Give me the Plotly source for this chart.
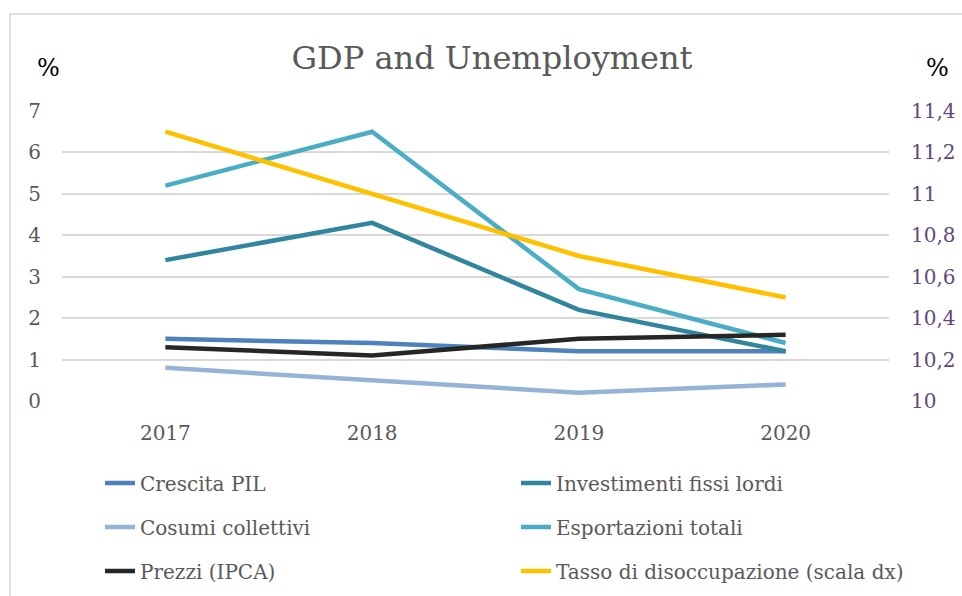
import plotly.graph_objects as go

years = ["2017", "2018", "2019", "2020"]
crescita_pil = [1.5, 1.4, 1.2, 1.2]
investimenti = [3.4, 4.3, 2.2, 1.2]
cosumi = [0.8, 0.5, 0.2, 0.4]
esportazioni = [5.2, 6.5, 2.7, 1.4]
prezzi = [1.3, 1.1, 1.5, 1.6]
disoccupazione = [11.3, 11.0, 10.7, 10.5]

FONT = "DejaVu Serif"
GREY = "#595959"

L, R, T, B = 62, 73, 111, 195
W, H = 962, 596
pw, ph = W - L - R, H - T - B

def px_x(x):
    return (x - L) / pw

def px_y(y):
    return (H - B - y) / ph

fig = go.Figure()
series = [
    ("Crescita PIL", crescita_pil, "#4F81BD", "y"),
    ("Investimenti fissi lordi", investimenti, "#31859C", "y"),
    ("Cosumi collettivi", cosumi, "#95B3D7", "y"),
    ("Esportazioni totali", esportazioni, "#4BACC6", "y"),
    ("Prezzi (IPCA)", prezzi, "#262626", "y"),
    ("Tasso di disoccupazione (scala dx)", disoccupazione, "#FFC000", "y2"),
]
row_y = [483, 527, 571]
col_x = [100, 516]
legends = {}
for i, (name, vals, color, yax) in enumerate(series):
    leg = "legend" if i == 0 else f"legend{i + 1}"
    fig.add_trace(go.Scatter(x=years, y=vals, name=name, mode="lines",
                             line=dict(color=color, width=4.5),
                             yaxis=yax, legend=leg))
    legends[leg] = dict(orientation="h",
                        font=dict(family=FONT, size=20, color=GREY),
                        bgcolor="rgba(0,0,0,0)", xanchor="left", yanchor="middle",
                        xref="container", yref="container",
                        x=col_x[i % 2] / W, y=1 - row_y[i // 2] / H)

fig.update_layout(
    width=W, height=H,
    margin=dict(l=L, r=R, t=T, b=B, autoexpand=False),
    paper_bgcolor="white", plot_bgcolor="white",
    separators=",.",
    font=dict(family=FONT, color=GREY),
    title=dict(text="GDP and Unemployment", x=492 / W, xref="container", xanchor="center",
               y=1 - 58 / H, yref="container", yanchor="middle",
               font=dict(family=FONT, size=32, color=GREY)),
    xaxis=dict(type="category", range=[-0.5, 3.5], showgrid=False, showline=False,
               ticks="", tickfont=dict(family=FONT, size=20, color=GREY),
               ticklabelstandoff=18),
    yaxis=dict(range=[0, 7], dtick=1, showgrid=True, gridcolor="#D9D9D9", gridwidth=1.5,
               zeroline=False, showline=False, ticks="",
               tickfont=dict(family=FONT, size=20, color=GREY), ticklabelstandoff=20),
    yaxis2=dict(range=[10, 11.4], dtick=0.2, overlaying="y", side="right", showgrid=False,
                zeroline=False, showline=False, ticks="",
                tickfont=dict(family=FONT, size=20, color="#5F497A"), ticklabelstandoff=21),
    showlegend=True,
    **legends,
)

fig.add_shape(type="rect", xref="paper", yref="paper",
              x0=px_x(10), x1=px_x(975), y0=px_y(610), y1=px_y(14),
              line=dict(color="#D9D9D9", width=1.5), layer="below")

fig.add_annotation(text="%", xref="paper", yref="paper", x=px_x(48), y=px_y(68),
                   xanchor="center", yanchor="middle", showarrow=False,
                   font=dict(family=FONT, size=24, color="black"))
fig.add_annotation(text="%", xref="paper", yref="paper", x=px_x(937), y=px_y(68),
                   xanchor="center", yanchor="middle", showarrow=False,
                   font=dict(family=FONT, size=24, color="black"))

fig.write_html("out.html")
